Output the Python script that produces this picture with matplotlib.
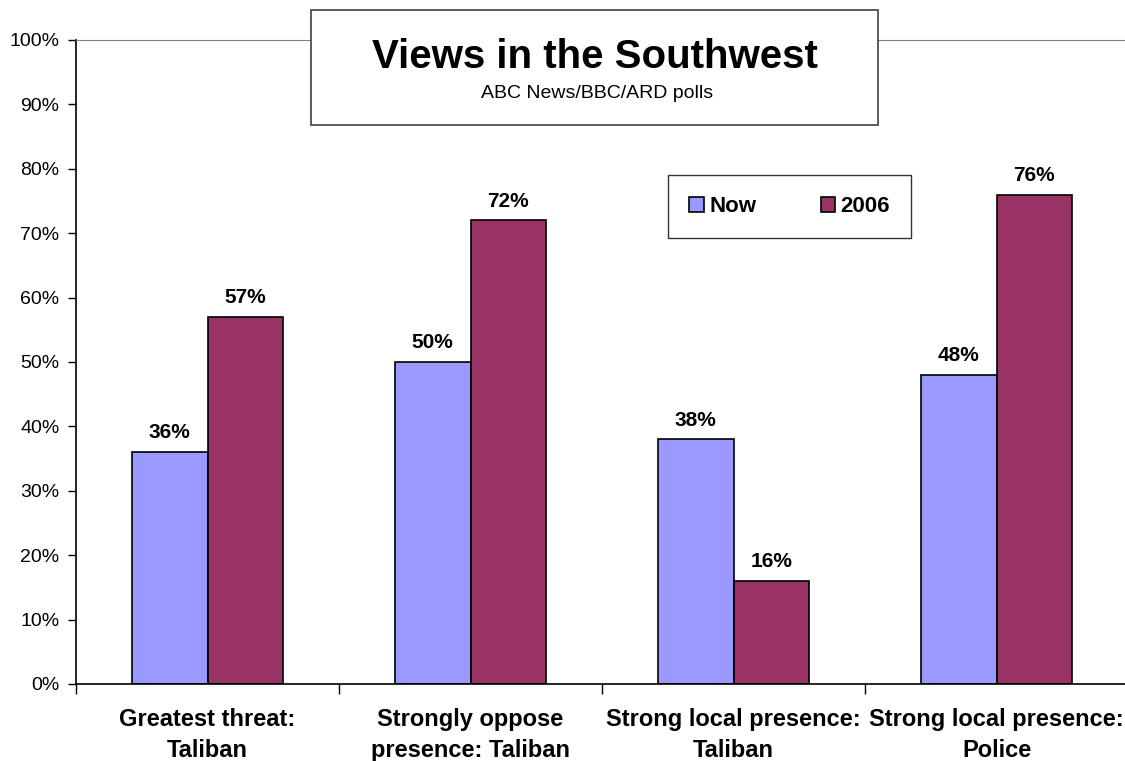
import matplotlib
matplotlib.use('Agg')
import matplotlib.pyplot as plt
from matplotlib.patches import Rectangle
import numpy as np

plt.rcParams['font.family'] = ['Liberation Sans', 'DejaVu Sans']

categories = ['Greatest threat:\nTaliban', 'Strongly oppose\npresence: Taliban',
              'Strong local presence:\nTaliban', 'Strong local presence:\nPolice']
now_vals = [36, 50, 38, 48]
vals_2006 = [57, 72, 16, 76]
series = ['Now', '2006']
colors = ['#9999FF', '#993366']

fig = plt.figure(figsize=(11.25, 7.61), dpi=100)
ax = fig.add_axes([76/1125, 1-684/761, 1052/1125, 644/761])

x = np.arange(len(categories)) + 0.5
w = 0.287
b1 = ax.bar(x - w/2, now_vals, w, color=colors[0], edgecolor='black', linewidth=1.2, label=series[0])
b2 = ax.bar(x + w/2, vals_2006, w, color=colors[1], edgecolor='black', linewidth=1.2, label=series[1])

for bars, vals in ((b1, now_vals), (b2, vals_2006)):
    for r, v in zip(bars, vals):
        ax.annotate('%d%%' % v, (r.get_x() + r.get_width()/2, v), xytext=(0, 7),
                    textcoords='offset points', ha='center', va='bottom',
                    fontsize=15, fontweight='bold')

ax.set_xlim(0, 4)
ax.set_ylim(0, 100)
ax.set_yticks(range(0, 101, 10))
ax.set_yticklabels(['%d%%' % t for t in range(0, 101, 10)], fontsize=14)
ax.tick_params(axis='y', length=6, width=1, pad=6)

ax.set_xticks(range(0, 5))
ax.set_xticklabels([])
ax.set_xticks(x, minor=True)
ax.set_xticklabels(categories, minor=True, fontsize=17, fontweight='bold', linespacing=1.45)
ax.tick_params(axis='x', which='major', length=7, width=1)
ax.tick_params(axis='x', which='minor', length=0, pad=17)

ax.spines['top'].set_color('#808080')
ax.spines['right'].set_visible(False)
ax.spines['left'].set_linewidth(1.2)
ax.spines['bottom'].set_linewidth(1.2)

# title box
fig.patches.append(Rectangle((311/1125, 1-125/761), 567/1125, 115/761, transform=fig.transFigure,
                             facecolor='white', edgecolor='#404040', linewidth=1.2, zorder=5))
fig.text(595/1125, 1-57/761, 'Views in the Southwest', ha='center', va='center',
         fontsize=29, fontweight='bold', zorder=6)
fig.text(597/1125, 1-93/761, 'ABC News/BBC/ARD polls', ha='center', va='center',
         fontsize=14, zorder=6)

leg = ax.legend(loc='upper left', bbox_to_anchor=((668-76)/1052, (684-175)/644), ncol=2,
                frameon=True, fancybox=False, prop={'weight': 'bold', 'size': 16},
                handlelength=0.65, handleheight=0.65, handletextpad=0.25, columnspacing=2.9,
                borderpad=0.95, borderaxespad=0)
leg.get_frame().set_edgecolor('black')
leg.get_frame().set_linewidth(1.0)

fig.savefig('out.png', dpi=100)
